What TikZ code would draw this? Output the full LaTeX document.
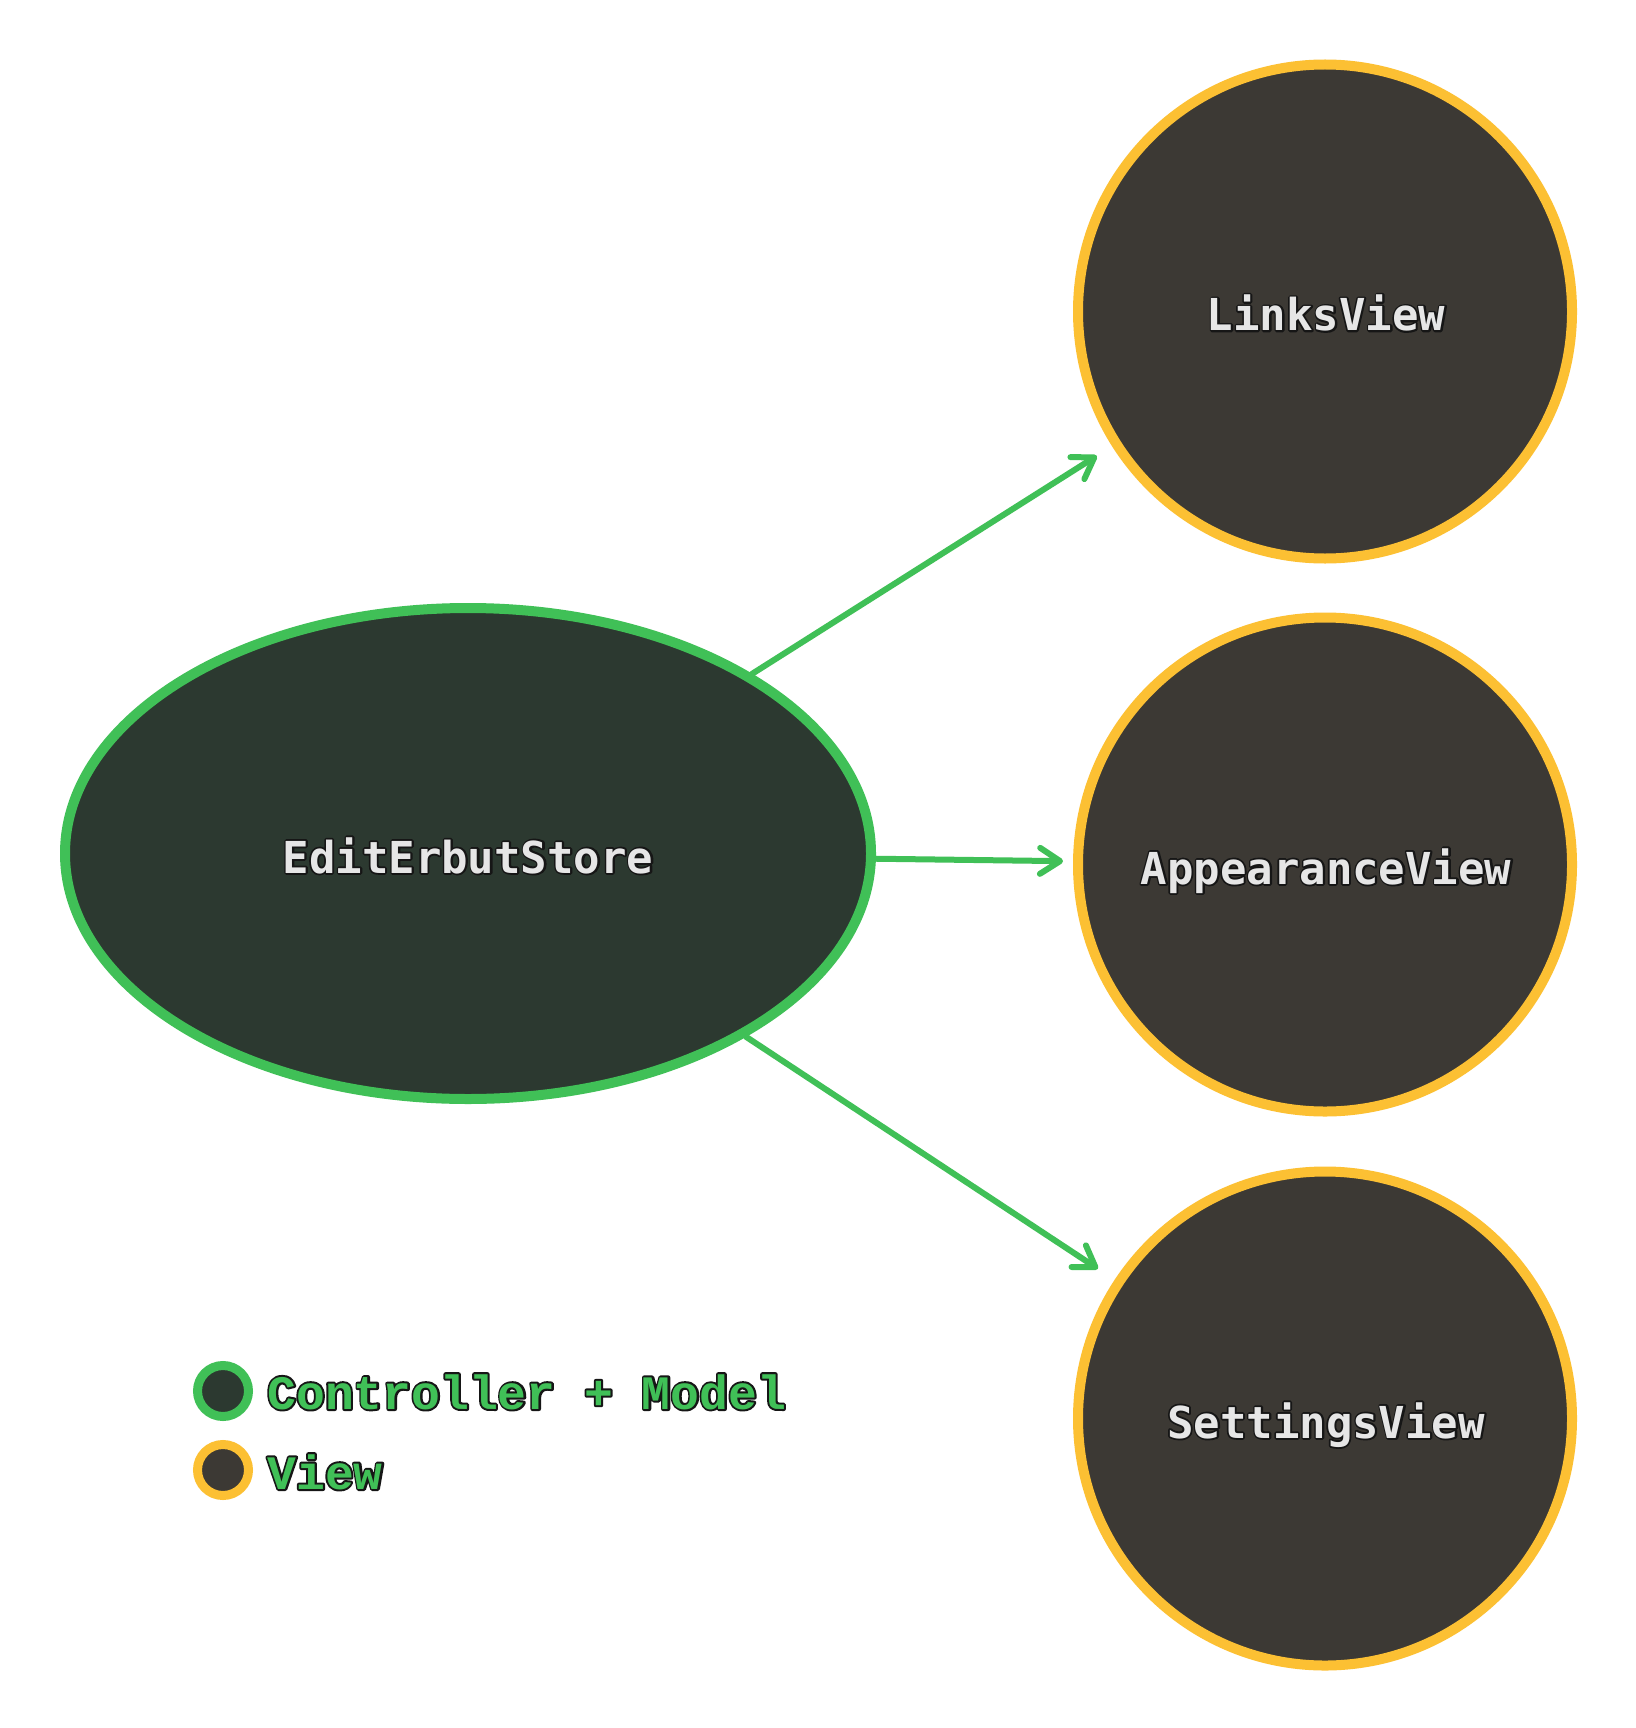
\documentclass[tikz,border=0pt]{standalone}
\usepackage{fontspec}
\usetikzlibrary{arrows.meta,shapes.geometric}
\newfontfamily\nodefont{DejaVu Sans Mono}
\newfontfamily\legfont{Liberation Mono}
\definecolor{cgreen}{HTML}{40C057}
\definecolor{cyellow}{HTML}{FCC033}
\definecolor{cfillg}{HTML}{2C3930}
\definecolor{cfilly}{HTML}{3C3934}
\definecolor{ctext}{HTML}{E6E6E6}
\definecolor{cout}{HTML}{161616}
% outlined text: fill colour #1, outline stroke width #2 (bp), text #3
\newcommand\outltext[3]{\rlap{\textcolor{cout}{\special{pdf:literal direct 1 Tr #2 w 1 j}#3\special{pdf:literal direct 0 Tr}}}\textcolor{#1}{#3}}
\tikzset{
  ctrl/.style={ellipse, draw=cgreen, line width=5pt, fill=cfillg, inner sep=0pt},
  viewc/.style={circle, draw=cyellow, line width=5pt, fill=cfilly, inner sep=0pt, minimum size=247pt},
  lbl/.style={anchor=base, inner sep=0pt, font=\nodefont\bfseries\fontsize{22pt}{26pt}\selectfont},
  leg/.style={anchor=base west, inner sep=0pt, font=\legfont\bfseries\fontsize{24pt}{28pt}\selectfont},
  legc/.style={circle, line width=4.5pt, inner sep=0pt, minimum size=25.5pt},
  arr/.style={draw=cgreen, line width=3pt, line cap=round, -{Straight Barb[length=10pt, width=13pt, round]}}
}
\begin{document}
\begin{tikzpicture}[x=0.5pt,y=-0.5pt]
\useasboundingbox (0,0) rectangle (1635,1728);
\fill[white] (0,0) rectangle (1635,1728);
% nodes
\node[ctrl, minimum width=403pt, minimum height=245.5pt] (store) at (468,853.5) {};
\node[viewc] (links) at (1325,311.5) {};
\node[viewc] (appear) at (1325,864.5) {};
\node[viewc] (settings) at (1325,1418.5) {};
% labels
\node[lbl] (storet) at (468,873) {\outltext{ctext}{1.8}{EditErbutStore}};
\node[lbl] (linkst) at (1326,330.5) {\outltext{ctext}{1.8}{LinksView}};
\node[lbl] (appeart) at (1326,884) {\outltext{ctext}{1.8}{AppearanceView}};
\node[lbl] (settingst) at (1326,1438) {\outltext{ctext}{1.8}{SettingsView}};
% connectors
\draw[arr, shorten >=9pt] (store) -- (links);
\draw[arr, shorten >=5pt] (store) -- (appear);
\draw[arr, shorten >=10pt] (store) -- (settings);
% legend
\node[legc, draw=cgreen, fill=cfillg] (lgc1) at (223,1391) {};
\node[legc, draw=cyellow, fill=cfilly] (lgc2) at (223,1470) {};
\node[leg] (lgt1) at (267,1409) {\outltext{cgreen}{2.0}{Controller + Model}};
\node[leg] (lgt2) at (267,1489) {\outltext{cgreen}{2.0}{View}};
\end{tikzpicture}
\end{document}
